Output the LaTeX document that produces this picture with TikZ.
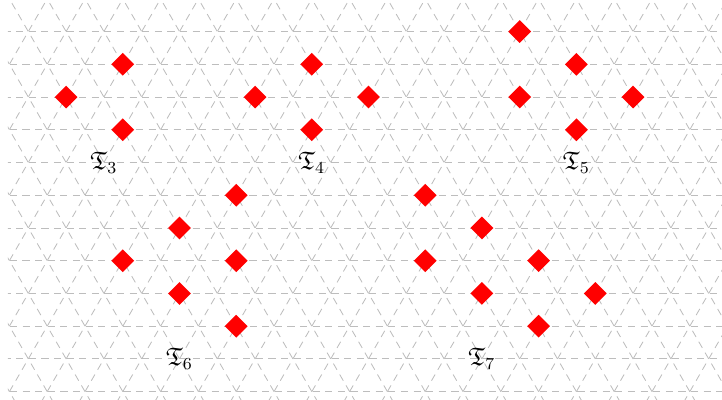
\documentclass[tikz,border=0pt]{standalone}
\usepackage{amsmath,amssymb}
\usepackage{tikz}
\usetikzlibrary{shapes.geometric}

\begin{document}
\begin{tikzpicture}[
  x=0.632cm, y=0.632cm,
  lattice/.style={dash pattern=on 3.4pt off 2.6pt, draw=black!26, line width=0.4pt},
  site/.style={diamond, fill=red, inner sep=0pt, minimum size=11pt},
  tag/.style={font=\large, inner sep=1pt},
  tri/.style={x={(0.632cm,0)}, y={(0.316cm,0.5473cm)}}
]
  \useasboundingbox (-0.749,-8.015) rectangle (18.352,2.567);

  % triangular grid
  \begin{scope}
    \clip (-0.54,-8.015) rectangle (18.352,2.567);
    \begin{scope}[tri]
      \foreach \row in {-10,...,4} \draw[lattice] (-10,\row) -- (25,\row);
      \foreach \col in {-4,...,24} \draw[lattice] (\col,-10) -- (\col,4);
      \foreach \dg in {-6,...,22} \draw[lattice] ({\dg+10},-10) -- ({\dg-4},4);
    \end{scope}
  \end{scope}

  \begin{scope}[tri]
    \node[site] (t3a) at (2,1) {};
    \node[site] (t3b) at (1,0) {};
    \node[site] (t3c) at (3,-1) {};
    \node[tag] (lab3) at (3,-2) {$\mathfrak{T}_3$};

    \node[site] (t4a) at (7,1) {};
    \node[site] (t4b) at (6,0) {};
    \node[site] (t4c) at (9,0) {};
    \node[site] (t4d) at (8,-1) {};
    \node[tag] (lab4) at (8.5,-2) {$\mathfrak{T}_4$};

    \node[site] (t5a) at (12,2) {};
    \node[site] (t5b) at (14,1) {};
    \node[site] (t5c) at (13,0) {};
    \node[site] (t5d) at (16,0) {};
    \node[site] (t5e) at (15,-1) {};
    \node[tag] (lab5) at (15.5,-2) {$\mathfrak{T}_5$};

    \node[site] (t6a) at (7,-3) {};
    \node[site] (t6b) at (6,-4) {};
    \node[site] (t6c) at (5,-5) {};
    \node[site] (t6d) at (8,-5) {};
    \node[site] (t6e) at (7,-6) {};
    \node[site] (t6f) at (9,-7) {};
    \node[tag] (lab6) at (8,-8) {$\mathfrak{T}_6$};

    \node[site] (t7a) at (12,-3) {};
    \node[site] (t7b) at (14,-4) {};
    \node[site] (t7c) at (13,-5) {};
    \node[site] (t7d) at (16,-5) {};
    \node[site] (t7e) at (15,-6) {};
    \node[site] (t7f) at (18,-6) {};
    \node[site] (t7g) at (17,-7) {};
    \node[tag] (lab7) at (16,-8) {$\mathfrak{T}_7$};
  \end{scope}
\end{tikzpicture}
\end{document}
